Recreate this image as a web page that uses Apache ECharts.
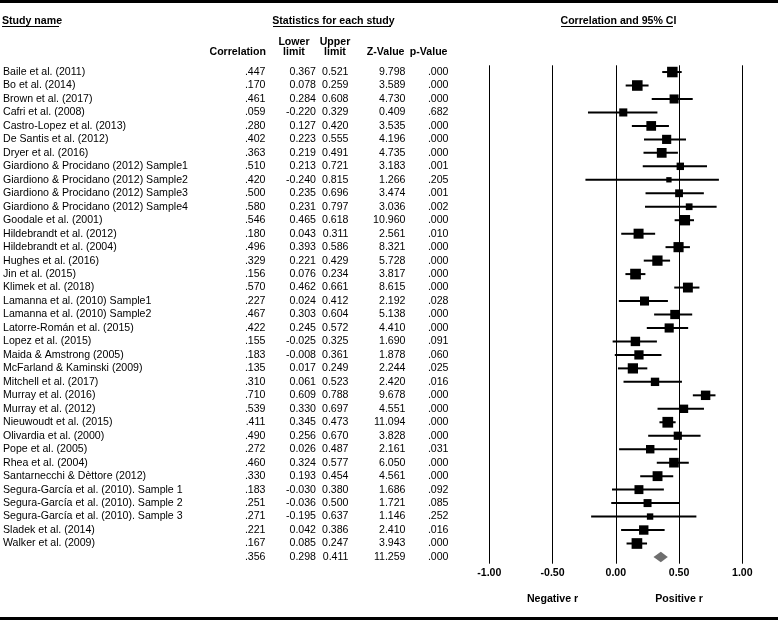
<!DOCTYPE html>
<html>
<head>
<meta charset="utf-8">
<script src="https://cdn.jsdelivr.net/npm/echarts@6/dist/echarts.min.js"></script>
<style>
html,body{margin:0;padding:0;background:#fff;}
#chart{width:778px;height:620px;}
</style>
</head>
<body>
<div id="chart"></div>
<script>
// ---------- data ----------
const studies = [
  'Baile et al. (2011)', 'Bo et al. (2014)', 'Brown et al. (2017)', 'Cafri et al. (2008)',
  'Castro-Lopez et al. (2013)', 'De Santis et al. (2012)', 'Dryer et al. (2016)',
  'Giardiono & Procidano (2012) Sample1', 'Giardiono & Procidano (2012) Sample2',
  'Giardiono & Procidano (2012) Sample3', 'Giardiono & Procidano (2012) Sample4',
  'Goodale et al. (2001)', 'Hildebrandt et al. (2012)', 'Hildebrandt et al. (2004)',
  'Hughes et al. (2016)', 'Jin et al. (2015)', 'Klimek et al. (2018)',
  'Lamanna et al. (2010) Sample1', 'Lamanna et al. (2010) Sample2', 'Latorre-Román et al. (2015)',
  'Lopez et al. (2015)', 'Maida & Amstrong (2005)', 'McFarland & Kaminski (2009)',
  'Mitchell et al. (2017)', 'Murray et al. (2016)', 'Murray et al. (2012)',
  'Nieuwoudt et al. (2015)', 'Olivardia et al. (2000)', 'Pope et al. (2005)',
  'Rhea et al. (2004)', 'Santarnecchi & Dèttore (2012)', 'Segura-García et al. (2010). Sample 1',
  'Segura-García et al. (2010). Sample 2', 'Segura-García et al. (2010). Sample 3',
  'Sladek et al. (2014)', 'Walker et al. (2009)', ''
];
const correlation = [.447,.170,.461,.059,.280,.402,.363,.510,.420,.500,.580,.546,.180,.496,.329,.156,.570,.227,.467,.422,.155,.183,.135,.310,.710,.539,.411,.490,.272,.460,.330,.183,.251,.271,.221,.167,.356];
const lowerLimit = [0.367,0.078,0.284,-0.220,0.127,0.223,0.219,0.213,-0.240,0.235,0.231,0.465,0.043,0.393,0.221,0.076,0.462,0.024,0.303,0.245,-0.025,-0.008,0.017,0.061,0.609,0.330,0.345,0.256,0.026,0.324,0.193,-0.030,-0.036,-0.195,0.042,0.085,0.298];
const upperLimit = [0.521,0.259,0.608,0.329,0.420,0.555,0.491,0.721,0.815,0.696,0.797,0.618,0.311,0.586,0.429,0.234,0.661,0.412,0.604,0.572,0.325,0.361,0.249,0.523,0.788,0.697,0.473,0.670,0.487,0.577,0.454,0.380,0.500,0.637,0.386,0.247,0.411];
const zValue = [9.798,3.589,4.730,0.409,3.535,4.196,4.735,3.183,1.266,3.474,3.036,10.960,2.561,8.321,5.728,3.817,8.615,2.192,5.138,4.410,1.690,1.878,2.244,2.420,9.678,4.551,11.094,3.828,2.161,6.050,4.561,1.686,1.721,1.146,2.410,3.943,11.259];
const pValue = [.000,.000,.000,.682,.000,.000,.000,.001,.205,.001,.002,.000,.010,.000,.000,.000,.000,.028,.000,.000,.091,.060,.025,.016,.000,.000,.000,.000,.031,.000,.000,.092,.085,.252,.016,.000,.000];
const xTicks = [-1, -0.5, 0, 0.5, 1];
const summaryIndex = 36;

// ---------- helpers ----------
const FONT = 'Liberation Sans, Arial, Helvetica, sans-serif';
const FS = 10.6;
const noLead = v => v.toFixed(3).replace(/^0\./, '.').replace(/^-0\./, '-.');
const fixed3 = v => v.toFixed(3);
// square size from study weight (random-effects style, from CI width on Fisher z)
function boxSize(lo, hi) {
  const se = (Math.atanh(hi) - Math.atanh(lo)) / 3.92;
  const w = 1 / (se * se + 0.015);
  return 2.5 + 1.06 * Math.sqrt(w);
}

const GRID_LEFT = 488.3;
const textAxis = (labels, offset, align) => ({
  type: 'category', data: labels, inverse: true, position: 'left', offset: offset,
  axisLine: {show: false}, axisTick: {show: false}, splitLine: {show: false},
  axisLabel: {interval: 0, margin: 0, align: align, color: '#000', fontFamily: FONT, fontSize: FS, hideOverlap: false}
});

const seriesData = correlation.map((c, i) => [c, i, lowerLimit[i], upperLimit[i], boxSize(lowerLimit[i], upperLimit[i])]);

const headers = [];
function txt(text, x, y, align, bold) {
  headers.push({type: 'text', silent: true, style: {text, x, y, align, verticalAlign: 'middle', fill: '#000',
    font: (bold ? 'bold ' : '') + FS + 'px ' + FONT}});
}
function hline(x1, x2, y, w) {
  headers.push({type: 'line', silent: true, shape: {x1, y1: y, x2, y2: y}, style: {stroke: '#000', lineWidth: w || 1}});
}
txt('Study name', 2, 21, 'left', true); hline(2, 59, 26.5);
txt(' Statistics for each study', 332, 21, 'center', true); hline(273, 391, 26.5);
txt(' Correlation and 95% CI', 617, 21, 'center', true); hline(561, 673, 26.5);
txt('Lower', 294, 42, 'center', true); txt('limit', 294, 52.5, 'center', true);
txt('Upper', 335, 42, 'center', true); txt('limit', 335, 52.5, 'center', true);
txt('Correlation', 266, 52.5, 'right', true);
txt('Z-Value', 404.5, 52.5, 'right', true);
txt('p-Value', 447.5, 52.5, 'right', true);
headers.push({type: 'rect', silent: true, shape: {x: 0, y: 0, width: 778, height: 3}, style: {fill: '#000'}});
headers.push({type: 'rect', silent: true, shape: {x: 0, y: 617, width: 778, height: 3}, style: {fill: '#000'}});

const chart = echarts.init(document.getElementById('chart'), null, {renderer: 'canvas'});
chart.setOption({
  animation: false,
  backgroundColor: '#fff',
  grid: {left: GRID_LEFT, width: 254, top: 65.3, height: 498.4},
  xAxis: [
    {type: 'value', min: -1, max: 1, interval: 0.5,
     axisLine: {show: false}, axisTick: {show: false},
     splitLine: {show: true, lineStyle: {color: '#000', width: 1}},
     axisLabel: {margin: 4, color: '#000', fontFamily: FONT, fontSize: FS, fontWeight: 'bold',
       formatter: v => v.toFixed(2)}},
    {type: 'value', min: -1, max: 1, interval: 0.5, position: 'bottom', offset: 26,
     axisLine: {show: false}, axisTick: {show: false}, splitLine: {show: false},
     axisLabel: {margin: 4, color: '#000', fontFamily: FONT, fontSize: FS, fontWeight: 'bold',
       formatter: v => v === -0.5 ? 'Negative r' : (v === 0.5 ? 'Positive r' : '')}}
  ],
  yAxis: [
    textAxis(studies, GRID_LEFT - 2, 'left'),
    textAxis(correlation.map(noLead), GRID_LEFT - 264.5, 'right'),
    textAxis(lowerLimit.map(fixed3), GRID_LEFT - 315, 'right'),
    textAxis(upperLimit.map(fixed3), GRID_LEFT - 347.5, 'right'),
    textAxis(zValue.map(fixed3), GRID_LEFT - 404.5, 'right'),
    textAxis(pValue.map(noLead), GRID_LEFT - 447.5, 'right')
  ],
  graphic: headers,
  series: [{
    type: 'custom',
    xAxisIndex: 0, yAxisIndex: 0,
    data: seriesData,
    renderItem: function (params, api) {
      const i = api.value(1);
      const c = api.coord([api.value(0), i]);
      const lo = api.coord([api.value(2), i]);
      const hi = api.coord([api.value(3), i]);
      if (i === summaryIndex) {
        return {type: 'polygon', shape: {points: [[lo[0], c[1]], [c[0], c[1] - 5.3], [hi[0], c[1]], [c[0], c[1] + 5.3]]},
          style: {fill: '#6e6e6e'}};
      }
      const s = api.value(4);
      return {type: 'group', children: [
        {type: 'line', shape: {x1: lo[0], y1: c[1], x2: hi[0], y2: c[1]}, style: {stroke: '#000', lineWidth: 2}},
        {type: 'rect', shape: {x: c[0] - s / 2, y: c[1] - s / 2, width: s, height: s}, style: {fill: '#000'}}
      ]};
    }
  }]
});
</script>
</body>
</html>
